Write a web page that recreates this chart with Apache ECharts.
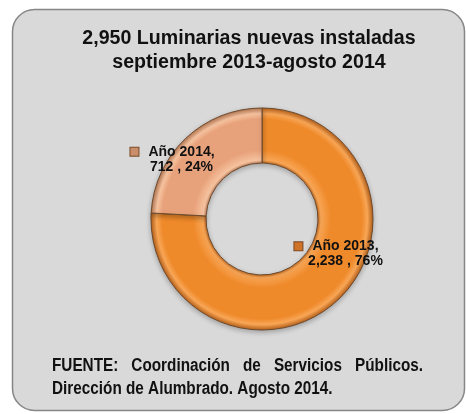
<!DOCTYPE html>
<html>
<head>
<meta charset="utf-8">
<script src="https://cdn.jsdelivr.net/npm/echarts@6/dist/echarts.min.js"></script>
<style>
  html, body { margin: 0; padding: 0; background: #ffffff; }
  #main { width: 466px; height: 414px; }
</style>
</head>
<body>
<div id="main"></div>
<script>
// datos
const categories = ['Año 2013', 'Año 2014'];
const values = [2238, 712];
const periodo = 'septiembre 2013-agosto 2014';
const fuente1 = ['FUENTE:', 'Coordinación', 'de', 'Servicios', 'Públicos.'];
const fuente2 = 'Dirección de Alumbrado. Agosto 2014.';

const total = values.reduce((a, b) => a + b, 0);
const fmt = (n) => n.toLocaleString('en-US');

const cx = 262, cy = 219, r0 = 56, r1 = 111;

// anillo con efecto biselado
const bevel = (dark, light, base) => ({
  type: 'radial', x: cx, y: cy, r: r1, global: true,
  colorStops: [
    { offset: 0.50, color: dark },
    { offset: 0.53, color: light },
    { offset: 0.62, color: base },
    { offset: 0.90, color: base },
    { offset: 0.95, color: light },
    { offset: 1.00, color: dark }
  ]
});
const sliceColors = [
  bevel('#b9621b', '#f8a656', '#ef8a2b'),
  bevel('#b97a55', '#f6c3a0', '#e8a27b')
];
const markerColors = ['#cf7328', '#c98f6c'];
const labelOffsets = [[15, -28], [-30, 3]];

// fuente: texto angosto, primera línea justificada
const footFont = 'bold 18px "Liberation Sans", Arial, sans-serif';
const footScale = 0.85;
const ctx = document.createElement('canvas').getContext('2d');
ctx.font = footFont;
const footLeft = 52, footRight = 423;
const wordsW = fuente1.map(w => ctx.measureText(w).width * footScale);
const gap = (footRight - footLeft - wordsW.reduce((a, b) => a + b, 0)) / (fuente1.length - 1);
let xPos = footLeft;
const footWords = fuente1.map((w, i) => {
  const el = {
    type: 'text', x: xPos, y: 357, scaleX: footScale,
    style: { text: w, font: footFont, fill: '#111111' }
  };
  xPos += wordsW[i] + gap;
  return el;
});

const myChart = echarts.init(document.getElementById('main'));
const option = {
  backgroundColor: '#ffffff',
  animation: false,
  graphic: [
    {
      type: 'rect', z: -10,
      shape: { x: 12.5, y: 9.5, width: 452, height: 401, r: 22 },
      style: { fill: '#d9d9d9', stroke: '#868686', lineWidth: 1.5 }
    },
    ...footWords,
    {
      type: 'text', x: footLeft, y: 380, scaleX: footScale,
      style: { text: fuente2, font: footFont, fill: '#111111' }
    }
  ],
  title: {
    text: fmt(total) + ' Luminarias nuevas instaladas\n' + periodo,
    left: 244,
    top: 22,
    textAlign: 'center',
    textStyle: {
      fontFamily: '"Liberation Sans", Arial, sans-serif',
      fontSize: 19.6,
      fontWeight: 'bold',
      lineHeight: 24,
      color: '#111111'
    }
  },
  series: [
    {
      type: 'pie',
      center: [cx, cy],
      radius: [r0, r1],
      startAngle: 90,
      clockwise: true,
      silent: true,
      itemStyle: {
        borderColor: '#6e4a2c',
        borderWidth: 1,
        shadowBlur: 5,
        shadowOffsetY: 2,
        shadowColor: 'rgba(0,0,0,0.25)'
      },
      labelLine: { show: false },
      data: categories.map((c, i) => ({
        name: c,
        value: values[i],
        itemStyle: { color: sliceColors[i] },
        label: {
          offset: labelOffsets[i],
          rich: {
            m: {
              width: 8, height: 8,
              backgroundColor: markerColors[i],
              borderColor: '#7a4a25', borderWidth: 1
            }
          }
        }
      })),
      label: {
        show: true,
        position: 'inside',
        formatter: (p) => '{m|}{g|}{t|' + p.name + ',}\n{s|}{t|' + fmt(p.value) + ' , ' + Math.round(p.value / total * 100) + '%}',
        rich: {
          g: { width: 10 },
          s: { width: 18 },
          t: {
            fontFamily: '"Liberation Sans", Arial, sans-serif',
            fontSize: 14,
            fontWeight: 'bold',
            color: '#111111',
            lineHeight: 15
          }
        }
      }
    }
  ]
};
myChart.setOption(option);
</script>
</body>
</html>
